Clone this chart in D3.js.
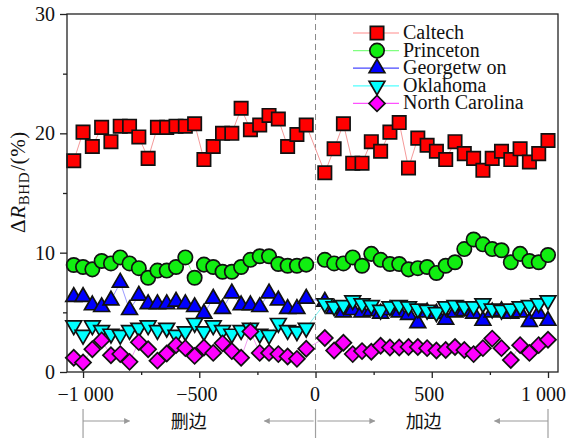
<!DOCTYPE html>
<html>
<head>
<meta charset="utf-8">
<script src="https://cdn.jsdelivr.net/npm/d3@7"></script>
<style>
  html, body { margin: 0; padding: 0; background: #fff; }
  svg { display: block; }
  text { font-family: "Liberation Serif", "Times New Roman", "DejaVu Serif", serif; fill: #111; }
  .cjk { font-family: "Noto Sans CJK SC", sans-serif; }
</style>
</head>
<body>
<svg id="chart" width="568" height="439"></svg>
<script>
// ---------- data ----------
const xValues = [
  -1040, -1000, -960, -920, -880, -840, -800, -760, -720, -680, -640, -600, -560,
  -520, -480, -440, -400, -360, -320, -280, -240, -200, -160, -120, -80, -40,
  40, 80, 120, 160, 200, 240, 280, 320, 360, 400, 440, 480, 520, 560, 600,
  640, 680, 720, 760, 800, 840, 880, 920, 960, 1000
];

const caltech = [
  17.7, 20.1, 18.9, 20.5, 19.3, 20.6, 20.6, 19.7, 17.9, 20.5, 20.5, 20.6, 20.6,
  20.8, 17.8, 18.9, 20.0, 20.0, 22.1, 20.3, 20.7, 21.5, 21.2, 18.9, 19.9, 20.7,
  16.7, 18.7, 20.8, 17.5, 17.5, 19.3, 18.5, 20.1, 20.9, 17.1, 19.6, 19.0, 18.5,
  17.8, 19.3, 18.3, 17.9, 16.9, 17.9, 18.5, 17.8, 18.7, 17.6, 18.3, 19.4
];
const princeton = [
  8.97, 8.8, 8.6, 9.3, 9.1, 9.6, 9.1, 8.7, 7.9, 8.5, 8.5, 8.8, 9.6,
  7.9, 9.0, 8.8, 8.4, 8.4, 8.8, 9.4, 9.7, 9.7, 9.05, 8.9, 8.9, 9.0,
  9.4, 9.1, 9.1, 9.6, 8.9, 9.9, 9.4, 9.05, 9.05, 8.6, 8.7, 8.8, 8.3,
  8.9, 9.2, 10.3, 11.1, 10.7, 10.3, 10.2, 9.2, 9.9, 9.3, 9.2, 9.8
];
const georgetown = [
  6.3, 6.3, 5.6, 5.45, 6.0, 7.5, 5.2, 6.4, 5.7, 5.7, 5.7, 5.9, 5.7,
  5.45, 4.9, 6.15, 5.3, 6.6, 5.6, 5.6, 5.45, 6.6, 6.0, 5.3, 5.3, 6.15,
  5.9, 5.3, 5.0, 5.2, 5.0, 5.1, 4.9, 5.2, 5.0, 4.8, 4.1, 5.0, 4.9,
  4.4, 5.0, 5.1, 4.9, 4.3, 5.0, 5.1, 4.9, 5.0, 4.2, 4.9, 4.3
];
const oklahoma = [
  3.9, 3.1, 3.9, 3.5, 3.2, 3.1, 3.5, 3.7, 3.9, 3.5, 3.7, 3.1, 3.4,
  4.1, 3.4, 3.9, 3.5, 3.2, 3.5, 3.7, 3.2, 3.1, 4.1, 3.5, 3.4, 3.7,
  5.75, 5.5, 5.6, 6.0, 5.75, 5.6, 5.2, 5.5, 5.6, 5.5, 5.3, 5.2, 5.0,
  5.5, 5.6, 5.5, 5.5, 5.75, 5.3, 5.2, 5.3, 5.5, 5.6, 5.75, 6.0
];
const northCarolina = [
  1.2, 0.8, 1.9, 2.65, 1.4, 1.5, 0.85, 2.5, 1.9, 0.95, 1.55, 2.25, 2.0,
  1.35, 2.05, 1.6, 2.4, 1.75, 1.2, 3.4, 1.6, 1.6, 1.5, 1.3, 1.1, 1.95,
  2.85, 1.8, 2.45, 1.5, 1.75, 1.7, 2.2, 2.05, 2.05, 2.1, 2.1, 2.0, 1.8,
  1.85, 2.1, 1.85, 1.5, 2.0, 2.8, 2.0, 1.0, 2.25, 1.6, 2.25, 2.7
];

const seriesNames = ["Caltech", "Princeton", "Georgetw on", "Oklahoma", "North Carolina"];
const xTickValues = [-1000, -500, 0, 500, 1000];
const xTickLabels = ["\u22121 000", "\u2212500", "0", "500", "1 000"];
const xMinorTicks = [-750, -250, 250, 750];
const yTickValues = [0, 10, 20, 30];
const yMinorTicks = [5, 15, 25];
const regionLabels = ["删边", "加边"];

// ---------- styles ----------
const styles = [
  { fill: "#ff0000", line: "#f59a9a", legendLine: "#ff8c8c", shape: "square" },
  { fill: "#11ee11", line: "#8ff08f", legendLine: "#80ff80", shape: "circle" },
  { fill: "#0000ff", line: "#9a9aff", legendLine: "#4848ff", shape: "up" },
  { fill: "#00ffff", line: "#80f0f0", legendLine: "#50ffff", shape: "down" },
  { fill: "#ff00ff", line: "#f0a0f0", legendLine: "#ff50ff", shape: "diamond" }
];
const allSeries = [caltech, princeton, georgetown, oklahoma, northCarolina];
const serif = '"Liberation Serif", "Times New Roman", "DejaVu Serif", serif';

const svg = d3.select("#chart");
const plotL = 67, plotR = 558, plotT = 14, plotB = 372;

const x = d3.scaleLinear().domain([-1069, 1043]).range([plotL, plotR]);
const y = d3.scaleLinear().domain([0, 30]).range([plotB, plotT]);

function symbolPath(shape) {
  switch (shape) {
    case "square": return d3.symbol(d3.symbolSquare, 178)();
    case "circle": return d3.symbol(d3.symbolCircle, 162)();
    case "up": return d3.symbol(d3.symbolTriangle, 108)();
    case "down": return d3.symbol(d3.symbolTriangle, 108)();
    case "diamond": return d3.symbol(d3.symbolSquare, 128)();
  }
}
function symbolRotate(shape) {
  if (shape === "down") return 180;
  if (shape === "diamond") return 45;
  return 0;
}

// dashed zero line
svg.append("line")
  .attr("x1", x(0)).attr("x2", x(0))
  .attr("y1", plotT).attr("y2", plotB)
  .attr("stroke", "#8a8a8a").attr("stroke-width", 1)
  .attr("stroke-dasharray", "6,4");

// series
const lineGen = d3.line().x((d, i) => x(xValues[i])).y(d => y(d));
allSeries.forEach((vals, si) => {
  const st = styles[si];
  const g = svg.append("g");
  g.append("path").datum(vals)
    .attr("d", lineGen)
    .attr("fill", "none")
    .attr("stroke", st.line)
    .attr("stroke-width", 1);
  g.selectAll("path.m").data(vals).enter().append("path")
    .attr("class", "m")
    .attr("d", symbolPath(st.shape))
    .attr("transform", (d, i) => `translate(${x(xValues[i])},${y(d)}) rotate(${symbolRotate(st.shape)})`)
    .attr("fill", st.fill)
    .attr("stroke", "#111")
    .attr("stroke-width", 1.7);
});

// frame
svg.append("rect")
  .attr("x", plotL).attr("y", plotT)
  .attr("width", plotR - plotL).attr("height", plotB - plotT)
  .attr("fill", "none").attr("stroke", "#222").attr("stroke-width", 1.3);

// axes
const yAxis = d3.axisLeft(y).tickValues(yTickValues).tickSize(7).tickPadding(5).tickFormat(d3.format("d"));
const yg = svg.append("g").attr("transform", `translate(${plotL},0)`).call(yAxis);
const yMinor = d3.axisLeft(y).tickValues(yMinorTicks).tickSize(4).tickFormat("");
const ymg = svg.append("g").attr("transform", `translate(${plotL},0)`).call(yMinor);

const xAxis = d3.axisBottom(x).tickValues(xTickValues).tickSize(6).tickPadding(9)
  .tickFormat((d, i) => xTickLabels[i]);
const xg = svg.append("g").attr("transform", `translate(0,${plotB})`).call(xAxis);
const xMinor = d3.axisBottom(x).tickValues(xMinorTicks).tickSize(3).tickFormat("");
const xmg = svg.append("g").attr("transform", `translate(0,${plotB})`).call(xMinor);

[yg, ymg, xg, xmg].forEach(g => {
  g.select(".domain").remove();
  g.attr("font-family", serif);
  g.selectAll(".tick line").attr("stroke", "#222").attr("stroke-width", 1.3);
  g.selectAll("text")
    .style("font-family", serif)
    .style("font-size", "20px").attr("fill", "#111");
});
// nudge x labels like the reference
const xLabelShift = [2, -3, -1, -3, -5];
xg.selectAll(".tick text").attr("dx", (d, i) => xLabelShift[i]);

// y label
const yl = svg.append("text")
  .attr("transform", `translate(25,182) rotate(-90)`)
  .attr("text-anchor", "middle")
  .style("font-family", serif)
  .style("font-size", "21px")
  .style("letter-spacing", "0.6px");
yl.append("tspan").text("\u0394");
yl.append("tspan").text("R").style("font-style", "italic");
yl.append("tspan").text("BHD").style("font-size", "15px").attr("dy", 4);
yl.append("tspan").text("/(%)").attr("dy", -4).attr("dx", 1);

// legend
const legX = 353, legY0 = 33, legStep = 17.6;
seriesNames.forEach((name, i) => {
  const st = styles[i];
  const yy = legY0 + i * legStep;
  svg.append("line")
    .attr("x1", legX).attr("x2", legX + 46)
    .attr("y1", yy).attr("y2", yy)
    .attr("stroke", st.legendLine).attr("stroke-width", 1.2);
  svg.append("path")
    .attr("d", symbolPath(st.shape))
    .attr("transform", `translate(${legX + 24},${yy}) rotate(${symbolRotate(st.shape)})`)
    .attr("fill", st.fill).attr("stroke", "#111").attr("stroke-width", 1.7);
  svg.append("text")
    .attr("x", legX + 50).attr("y", yy + 6)
    .style("font-family", serif)
    .style("font-size", "20px")
    .text(name);
});

// bottom annotation (arrows)
const defs = svg.append("defs");
defs.append("marker")
  .attr("id", "ah").attr("viewBox", "0 0 10 10")
  .attr("refX", 9).attr("refY", 5)
  .attr("markerWidth", 8).attr("markerHeight", 6)
  .attr("markerUnits", "userSpaceOnUse")
  .attr("orient", "auto")
  .append("path").attr("d", "M0,0 L10,5 L0,10 Z").attr("fill", "#9a9a9a");

const annY = 421;
[-1000, 0, 1000].forEach(v => {
  svg.append("line")
    .attr("x1", x(v)).attr("x2", x(v))
    .attr("y1", 409).attr("y2", 438)
    .attr("stroke", "#a0a0a0").attr("stroke-width", 1.2);
});
const arrows = [[-1000, -800], [-8, -220], [8, 255], [1000, 770]];
arrows.forEach(([a, b]) => {
  svg.append("line")
    .attr("x1", x(a)).attr("x2", x(b))
    .attr("y1", annY).attr("y2", annY)
    .attr("stroke", "#9a9a9a").attr("stroke-width", 1.2)
    .attr("marker-end", "url(#ah)");
});
svg.append("text").attr("class", "cjk")
  .attr("x", x(-545)).attr("y", annY + 7)
  .attr("text-anchor", "middle")
  .style("font-size", "18px").text(regionLabels[0]);
svg.append("text").attr("class", "cjk")
  .attr("x", x(465)).attr("y", annY + 7)
  .attr("text-anchor", "middle")
  .style("font-size", "18px").text(regionLabels[1]);
</script>
</body>
</html>
